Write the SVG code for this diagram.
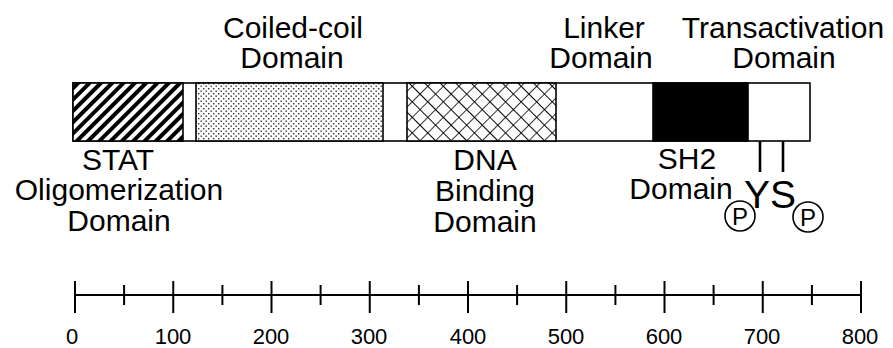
<svg xmlns="http://www.w3.org/2000/svg" width="893" height="348" viewBox="0 0 893 348">
<style>
text{font-family:"Liberation Sans",Arial,Helvetica,sans-serif;fill:#000;text-anchor:middle}
.lbl{font-size:30px}
.num{font-size:22px}
.box{stroke:#000;stroke-width:1.6}
.tick{stroke:#000;stroke-width:2}
.site{stroke:#000;stroke-width:2.6}
.circ{fill:none;stroke:#000;stroke-width:1.6}
</style>
<defs>
<pattern id="stripes" width="8" height="8" patternUnits="userSpaceOnUse" patternTransform="rotate(45)">
<rect width="8" height="8" fill="#fff"/>
<rect x="0" y="0" width="4" height="8" fill="#000"/>
</pattern>
<pattern id="dots" width="5" height="5" patternUnits="userSpaceOnUse">
<rect width="5" height="5" fill="#fff"/>
<rect x="0.5" y="0.5" width="1.4" height="1.4" fill="#333"/>
<rect x="3" y="3" width="1.4" height="1.4" fill="#333"/>
</pattern>
<pattern id="hatch" width="11" height="11" patternUnits="userSpaceOnUse" patternTransform="rotate(45)">
<rect width="11" height="11" fill="#fff"/>
<line x1="0" y1="0" x2="11" y2="0" stroke="#000" stroke-width="2"/>
<line x1="0" y1="0" x2="0" y2="11" stroke="#000" stroke-width="1.6"/>
</pattern>
</defs>

<g id="protein-bar">
<rect class="box" x="73" y="83" width="737" height="58" fill="#fff"/>
<rect class="box" x="73" y="83" width="110" height="58" fill="url(#stripes)"/>
<rect class="box" x="196" y="83" width="187" height="58" fill="url(#dots)"/>
<rect class="box" x="407" y="83" width="149" height="58" fill="url(#hatch)"/>
<rect class="box" x="653" y="83" width="95" height="58" fill="#000"/>
</g>

<g id="coiled-coil-label">
<text class="lbl" x="293" y="38">Coiled-coil</text>
<text class="lbl" x="292" y="68">Domain</text>
</g>
<g id="linker-label">
<text class="lbl" x="604" y="38">Linker</text>
<text class="lbl" x="601" y="68">Domain</text>
</g>
<g id="transactivation-label">
<text class="lbl" x="783" y="38">Transactivation</text>
<text class="lbl" x="784" y="68">Domain</text>
</g>
<g id="stat-label">
<text class="lbl" x="118" y="170">STAT</text>
<text class="lbl" x="119" y="200">Oligomerization</text>
<text class="lbl" x="119" y="231">Domain</text>
</g>
<g id="dna-label">
<text class="lbl" x="485" y="170">DNA</text>
<text class="lbl" x="485" y="201">Binding</text>
<text class="lbl" x="485" y="232">Domain</text>
</g>
<g id="sh2-label">
<text class="lbl" x="687" y="169">SH2</text>
<text class="lbl" x="681" y="199">Domain</text>
</g>

<g id="connectors">
<line class="site" x1="760" y1="141" x2="760" y2="172"/>
<line class="site" x1="783" y1="141" x2="783" y2="172"/>
</g>

<g id="phospho-sites">
<text x="770" y="208" style="font-size:39px">YS</text>
<circle class="circ" cx="740" cy="216" r="15"/>
<text x="740" y="224.5" style="font-size:24px">P</text>
<circle class="circ" cx="808" cy="217" r="15"/>
<text x="808" y="225.5" style="font-size:24px">P</text>
</g>

<g id="scale">
<line class="tick" x1="75" y1="295" x2="861" y2="295"/>
<line class="tick" x1="75" y1="281" x2="75" y2="313"/>
<line class="tick" x1="173.25" y1="281" x2="173.25" y2="313"/>
<line class="tick" x1="271.5" y1="281" x2="271.5" y2="313"/>
<line class="tick" x1="369.75" y1="281" x2="369.75" y2="313"/>
<line class="tick" x1="468" y1="281" x2="468" y2="313"/>
<line class="tick" x1="566.25" y1="281" x2="566.25" y2="313"/>
<line class="tick" x1="664.5" y1="281" x2="664.5" y2="313"/>
<line class="tick" x1="762.75" y1="281" x2="762.75" y2="313"/>
<line class="tick" x1="861" y1="281" x2="861" y2="313"/>
<line class="tick" x1="124.1" y1="285" x2="124.1" y2="305"/>
<line class="tick" x1="222.4" y1="285" x2="222.4" y2="305"/>
<line class="tick" x1="320.6" y1="285" x2="320.6" y2="305"/>
<line class="tick" x1="418.9" y1="285" x2="418.9" y2="305"/>
<line class="tick" x1="517.1" y1="285" x2="517.1" y2="305"/>
<line class="tick" x1="615.4" y1="285" x2="615.4" y2="305"/>
<line class="tick" x1="713.6" y1="285" x2="713.6" y2="305"/>
<line class="tick" x1="811.9" y1="285" x2="811.9" y2="305"/>
<text class="num" x="72" y="344">0</text>
<text class="num" x="173" y="344">100</text>
<text class="num" x="271" y="344">200</text>
<text class="num" x="369" y="344">300</text>
<text class="num" x="468" y="344">400</text>
<text class="num" x="566" y="344">500</text>
<text class="num" x="664" y="344">600</text>
<text class="num" x="762" y="344">700</text>
<text class="num" x="860" y="344">800</text>
</g>
</svg>
